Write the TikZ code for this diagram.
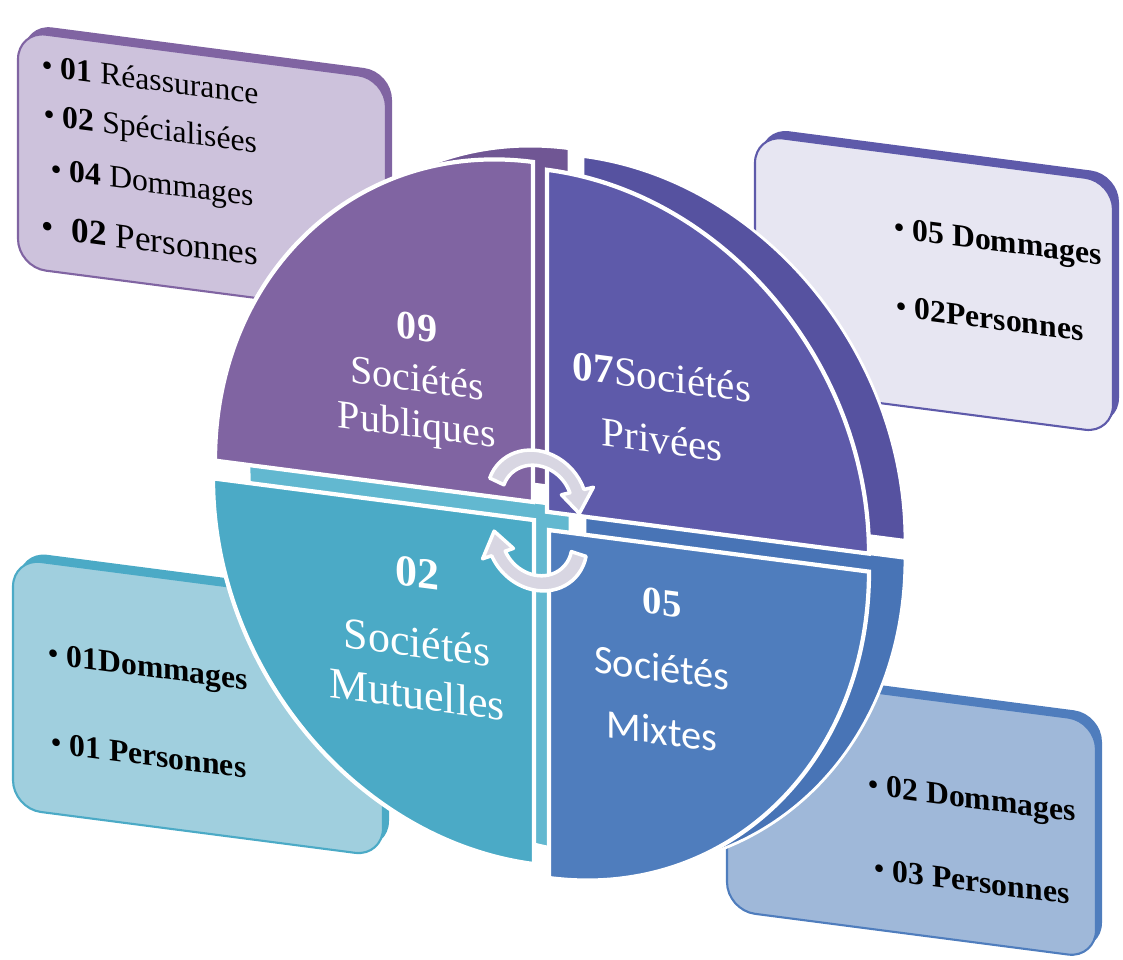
\documentclass[tikz,border=0pt]{standalone}
\usepackage{fontspec}
\setmainfont{Liberation Serif}
\newfontfamily\mixfont{Carlito}
\definecolor{pubface}{RGB}{128,100,162}
\definecolor{pubside}{RGB}{112,86,148}
\definecolor{priface}{RGB}{94,90,170}
\definecolor{priside}{RGB}{86,82,160}
\definecolor{mutface}{RGB}{75,170,198}
\definecolor{mutside}{RGB}{98,184,208}
\definecolor{mixface}{RGB}{79,125,189}
\definecolor{mixside}{RGB}{72,116,182}
\definecolor{pubbox}{RGB}{205,194,220}
\definecolor{pribox}{RGB}{231,230,242}
\definecolor{mutbox}{RGB}{160,207,222}
\definecolor{mixbox}{RGB}{159,184,217}
\definecolor{arrowgrey}{RGB}{216,214,226}

\begin{document}
\begin{tikzpicture}[x=0.01cm, y=0.01cm,
quarter/.style ={draw=white, line width=1.2pt},
band/.style ={draw=white, line width=0.8pt},
boxface/.style ={rounded corners=8pt, line width=0.6pt},
boxside/.style ={rounded corners=8pt},
qlabel/.style ={text=white, inner sep=0pt, transform shape},
entry/.style ={anchor=west, inner sep=0pt, transform shape, font=\fontsize{9}{11}\selectfont},
cyclearrow/.style ={fill=arrowgrey, draw=white, line width=1pt, line join=round},
]

\useasboundingbox (0,0) rectangle (1123,-960);

\begin{scope}[shift={(541,-515)}, cm={1,-0.13,0,1,(0,0)}]

% boxes behind the disc
\fill[boxside, pubface, shift={(6,8)}] (-523,180) rectangle (-155,416);
\filldraw[boxface, draw=pubface, fill=pubbox] (-523,180) rectangle (-155,416);
\fill[boxside, priface, shift={(6,8)}] (214,156) rectangle (572,408);
\filldraw[boxface, draw=priface, fill=pribox] (214,156) rectangle (572,408);
\fill[boxside, mutface, shift={(6,8)}] (-528,-362) rectangle (-158,-112);
\filldraw[boxface, draw=mutface, fill=mutbox] (-528,-362) rectangle (-158,-112);
\fill[boxside, mixface, shift={(6,8)}] (186,-371) rectangle (555,-134);
\filldraw[boxface, draw=mixface, fill=mixbox] (186,-371) rectangle (555,-134);

\node (REASS) [entry] at (-500,385) {\textbullet{} \textbf{01} Réassurance};
\node (SPEC) [entry] at (-498,333) {\textbullet{} \textbf{02} Spécialisées};
\node (PUBDOM) [entry] at (-491,279) {\textbullet{} \textbf{04} Dommages};
\node (PUBPERS) [entry, font=\fontsize{10}{12}\selectfont] at (-500,224) {\textbullet{} \ \textbf{02} Personnes};
\node (PRIDOM) [entry] at (352,330) {\textbullet{} \textbf{05 Dommages}};
\node (PRIPERS) [entry] at (354,255) {\textbullet{} \textbf{02Personnes}};
\node (MUTDOM) [entry] at (-494,-206) {\textbullet{} \textbf{01Dommages}};
\node (MUTPERS) [entry] at (-491,-291) {\textbullet{} \textbf{01 Personnes}};
\node (MIXDOM) [entry] at (326,-230) {\textbullet{} \textbf{02 Dommages}};
\node (MIXPERS) [entry] at (332,-310) {\textbullet{} \textbf{03 Personnes}};

% thickness of the disc
\filldraw[band, fill=pubside, shift={(36,18)}] (-8,12) -- (-326,12) arc[start angle=180, end angle=90, x radius=318, y radius=340] -- cycle;
\filldraw[band, fill=priside, shift={(36,18)}] (6,4) -- (6,346) arc[start angle=90, end angle=0, x radius=322, y radius=342] -- cycle;
\filldraw[band, fill=mutside, shift={(36,18)}] (-7,-6) -- (-7,-350) arc[start angle=270, end angle=180, x radius=321, y radius=344] -- cycle;
\filldraw[band, fill=mixside, shift={(36,18)}] (8,-14) -- (328,-14) arc[start angle=0, end angle=-90, x radius=320, y radius=348] -- cycle;

% four quarters
\filldraw[quarter, fill=pubface] (-8,12) -- (-326,12) arc[start angle=180, end angle=90, x radius=318, y radius=340] -- cycle;
\filldraw[quarter, fill=priface] (6,4) -- (6,346) arc[start angle=90, end angle=0, x radius=322, y radius=342] -- cycle;
\filldraw[quarter, fill=mutface] (-7,-6) -- (-7,-350) arc[start angle=270, end angle=180, x radius=321, y radius=344] -- cycle;
\filldraw[quarter, fill=mixface] (8,-14) -- (328,-14) arc[start angle=0, end angle=-90, x radius=320, y radius=348] -- cycle;

\node (PUBNUM) [qlabel, font=\fontsize{11.4}{13}\selectfont\bfseries] at (-124,172) {09};
\node (PUBSOC) [qlabel, font=\fontsize{11.4}{13}\selectfont] at (-124,121) {Sociétés};
\node (PUBKIND) [qlabel, font=\fontsize{11.4}{13}\selectfont] at (-124,71) {Publiques};
\node (PRISOC) [qlabel, font=\fontsize{11.7}{13}\selectfont] at (121,154) {\textbf{07}Sociétés};
\node (PRIKIND) [qlabel, font=\fontsize{11.7}{13}\selectfont] at (121,91) {Privées};
\node (MUTNUM) [qlabel, font=\fontsize{12.5}{14}\selectfont\bfseries] at (-124,-74) {02};
\node (MUTSOC) [qlabel, font=\fontsize{12.5}{14}\selectfont] at (-124,-143) {Sociétés};
\node (MUTKIND) [qlabel, font=\fontsize{12.5}{14}\selectfont] at (-124,-195) {Mutuelles};
\node (MIXNUM) [qlabel, font=\fontsize{11}{13}\selectfont\bfseries] at (121,-72) {05};
\node (MIXSOC) [qlabel, font=\fontsize{11.5}{13}\selectfont\mixfont] at (121,-137) {Sociétés};
\node (MIXKIND) [qlabel, font=\fontsize{11.5}{13}\selectfont\mixfont] at (121,-200) {Mixtes};

% cycle arrows in the middle
\begin{scope}[shift={(-4,14)}]
\filldraw[cyclearrow] (161:50) arc[start angle=161, end angle=20, radius=50] -- (20:60) -- (-10:43) -- (20:26) -- (20:35) arc[start angle=20, end angle=161, radius=35] -- cycle;
\end{scope}
\begin{scope}[shift={(-4,-26)}]
\filldraw[cyclearrow] (-11:50) arc[start angle=-11, end angle=-155, radius=50] -- (-155:60) -- (-185:43) -- (-155:26) -- (-155:35) arc[start angle=-155, end angle=-11, radius=35] -- cycle;
\end{scope}

\end{scope}

\end{tikzpicture}
\end{document}
